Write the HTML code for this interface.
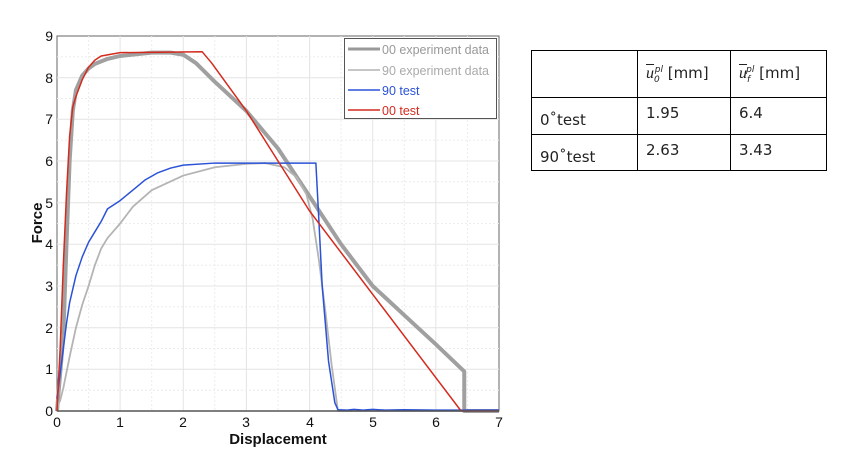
<!DOCTYPE html>
<html><head><meta charset="utf-8"><style>
body{margin:0;background:#fff;width:849px;height:459px;overflow:hidden;font-family:"Liberation Sans",Arial,sans-serif}
table{position:absolute;left:531px;top:50px;border-collapse:collapse;font-family:"DejaVu Sans",Verdana,sans-serif;font-size:15px;color:#222}
td{border:1px solid #000;padding:0 8px;vertical-align:middle}
</style></head><body>
<svg width="849" height="459" style="position:absolute;left:0;top:0" font-family="Liberation Sans, Arial, sans-serif">
<rect x="57" y="36" width="442" height="375" fill="#fff" stroke="#666" stroke-width="1"/>
<g stroke="#e4e4e4" stroke-width="1">
<line x1="120.1" y1="36" x2="120.1" y2="411"/><line x1="183.3" y1="36" x2="183.3" y2="411"/><line x1="246.4" y1="36" x2="246.4" y2="411"/><line x1="309.6" y1="36" x2="309.6" y2="411"/><line x1="372.7" y1="36" x2="372.7" y2="411"/><line x1="435.8" y1="36" x2="435.8" y2="411"/>
<line x1="57" y1="369.3" x2="499" y2="369.3"/><line x1="57" y1="327.7" x2="499" y2="327.7"/><line x1="57" y1="286" x2="499" y2="286"/><line x1="57" y1="244.3" x2="499" y2="244.3"/><line x1="57" y1="202.7" x2="499" y2="202.7"/><line x1="57" y1="161" x2="499" y2="161"/><line x1="57" y1="119.3" x2="499" y2="119.3"/><line x1="57" y1="77.7" x2="499" y2="77.7"/>
</g>
<g stroke="#ececec" stroke-width="1" stroke-dasharray="2,2">
<line x1="88.6" y1="36" x2="88.6" y2="411"/><line x1="151.7" y1="36" x2="151.7" y2="411"/><line x1="214.8" y1="36" x2="214.8" y2="411"/><line x1="278" y1="36" x2="278" y2="411"/><line x1="341.1" y1="36" x2="341.1" y2="411"/><line x1="404.3" y1="36" x2="404.3" y2="411"/><line x1="467.4" y1="36" x2="467.4" y2="411"/>
<line x1="57" y1="390.2" x2="499" y2="390.2"/><line x1="57" y1="348.5" x2="499" y2="348.5"/><line x1="57" y1="306.8" x2="499" y2="306.8"/><line x1="57" y1="265.2" x2="499" y2="265.2"/><line x1="57" y1="223.5" x2="499" y2="223.5"/><line x1="57" y1="181.8" x2="499" y2="181.8"/><line x1="57" y1="140.2" x2="499" y2="140.2"/><line x1="57" y1="98.5" x2="499" y2="98.5"/><line x1="57" y1="56.8" x2="499" y2="56.8"/>
</g>
<g transform="translate(57,411) scale(63.14,-41.67)" fill="none" stroke-linejoin="round">
<polyline vector-effect="non-scaling-stroke" stroke="#a0a0a0" stroke-width="4" points="0,0 0.1,1.8 0.15,4 0.2,6 0.25,7.2 0.3,7.7 0.4,8.05 0.5,8.22 0.6,8.33 0.8,8.45 1,8.52 1.5,8.6 1.8,8.6 2,8.55 2.2,8.35 2.5,7.9 3,7.2 3.5,6.3 4,5.15 4.5,4 5,3.0 5.5,2.3 6,1.6 6.45,0.95 6.45,0 7,0"/>
<polyline vector-effect="non-scaling-stroke" stroke="#b4b4b4" stroke-width="1.8" points="0,0.1 0.05,0.25 0.1,0.55 0.2,1.3 0.3,2 0.4,2.55 0.5,3.0 0.6,3.5 0.7,3.9 0.8,4.15 1,4.5 1.2,4.9 1.5,5.3 2,5.65 2.5,5.85 3,5.93 3.3,5.95 3.6,5.85 3.8,5.6 3.95,5.2 4.05,4.6 4.15,3.6 4.25,2.4 4.35,1.1 4.45,0 7,0"/>
<polyline vector-effect="non-scaling-stroke" stroke="#2a52d8" stroke-width="1.5" points="0,0.3 0.05,0.9 0.1,1.5 0.15,2.1 0.2,2.6 0.3,3.25 0.4,3.7 0.5,4.05 0.6,4.3 0.7,4.55 0.8,4.85 1,5.05 1.2,5.3 1.4,5.55 1.6,5.72 1.8,5.83 2,5.9 2.5,5.95 4.1,5.95 4.15,4.5 4.2,3 4.3,1.2 4.4,0.2 4.45,0.03 4.6,0.02 4.7,0.04 4.85,0.02 5,0.04 5.2,0.02 5.5,0.03 6,0.02 6.5,0.02 7,0.02"/>
<polyline vector-effect="non-scaling-stroke" stroke="#d42a1e" stroke-width="1.5" points="0,0 0.05,1.5 0.1,3.5 0.15,5.2 0.2,6.6 0.25,7.3 0.3,7.55 0.4,7.95 0.5,8.25 0.6,8.42 0.7,8.52 1,8.6 2.3,8.62 2.45,8.35 3,7.2 3.5,6.0 4,4.8 6.4,0 7,0"/>
</g>
<line x1="57" y1="411" x2="499" y2="411" stroke="#555" stroke-width="1.5"/>
<g font-size="14" fill="#111" text-anchor="end">
<text x="53" y="416">0</text><text x="53" y="374">1</text><text x="53" y="333">2</text><text x="53" y="291">3</text><text x="53" y="249">4</text><text x="53" y="208">5</text><text x="53" y="166">6</text><text x="53" y="124">7</text><text x="53" y="83">8</text><text x="53" y="41">9</text>
</g>
<g font-size="14" fill="#111" text-anchor="middle">
<text x="57" y="427">0</text><text x="120" y="427">1</text><text x="183" y="427">2</text><text x="246" y="427">3</text><text x="310" y="427">4</text><text x="373" y="427">5</text><text x="436" y="427">6</text><text x="499" y="427">7</text>
</g>
<text x="278" y="444" font-size="15" font-weight="bold" text-anchor="middle" fill="#111">Displacement</text>
<text transform="translate(42,223) rotate(-90)" font-size="15" font-weight="bold" text-anchor="middle" fill="#111">Force</text>
<rect x="344.5" y="38.5" width="152" height="80" fill="#fff" stroke="#555" stroke-width="1"/>
<line x1="348" y1="49" x2="380" y2="49" stroke="#999" stroke-width="3"/>
<line x1="348" y1="70" x2="380" y2="70" stroke="#b4b4b4" stroke-width="1.5"/>
<line x1="348" y1="90" x2="380" y2="90" stroke="#2a52d8" stroke-width="1.5"/>
<line x1="348" y1="110" x2="380" y2="110" stroke="#d42a1e" stroke-width="1.5"/>
<g font-size="12.5">
<text x="382" y="54" fill="#999">00 experiment data</text>
<text x="382" y="75" fill="#aaa">90 experiment data</text>
<text x="382" y="95" fill="#2a52d8">90 test</text>
<text x="382" y="115" fill="#d42a1e">00 test</text>
</g>
</svg>
<table>
<tr style="height:47px"><td style="width:89px"></td><td style="width:76px"><i style="font-family:'Liberation Serif',serif;text-decoration:overline;font-size:16px">u</i><sub style="font-size:9px;font-style:italic">0</sub><sup style="font-size:9px;font-style:italic;margin-left:-5px">pl</sup> [mm]</td><td style="width:79px"><i style="font-family:'Liberation Serif',serif;text-decoration:overline;font-size:16px">u</i><sub style="font-size:9px;font-style:italic">f</sub><sup style="font-size:9px;font-style:italic;margin-left:-4px">pl</sup> [mm]</td></tr>
<tr style="height:37px"><td style="padding-top:8px">0˚test</td><td style="vertical-align:top;padding-top:6px">1.95</td><td style="vertical-align:top;padding-top:6px">6.4</td></tr>
<tr style="height:36px"><td style="padding-top:8px">90˚test</td><td style="vertical-align:top;padding-top:6px">2.63</td><td style="vertical-align:top;padding-top:6px">3.43</td></tr>
</table>
</body></html>
